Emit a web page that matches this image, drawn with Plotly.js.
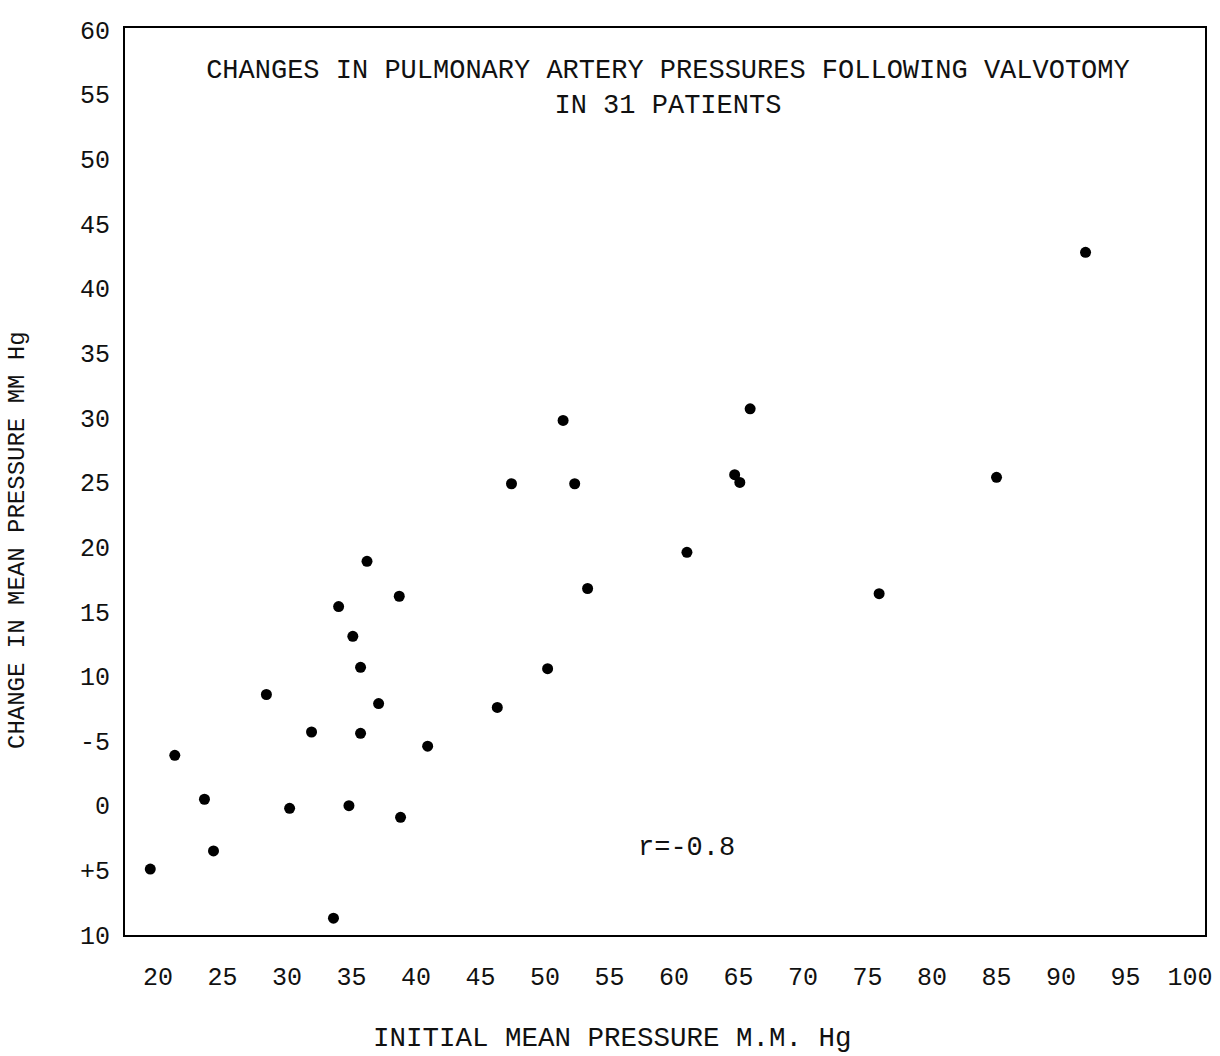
<!DOCTYPE html>
<html>
<head>
<meta charset="utf-8">
<script src="https://cdn.plot.ly/plotly-3.0.1.min.js"></script>
<style>
html,body{margin:0;padding:0;background:#fff;}
#chart{width:1220px;height:1056px;}
</style>
</head>
<body>
<div id="chart"></div>
<script>
// Initial mean pressure (mm Hg)
const initialPressure = [19.4, 21.3, 23.6, 24.3, 28.4, 30.2, 31.9, 33.6, 34.0, 34.8,
  35.1, 35.7, 35.7, 36.2, 37.1, 38.7, 38.8, 40.9, 46.3, 47.4,
  50.2, 51.4, 52.3, 53.3, 61.0, 64.7, 65.1, 65.9, 75.9, 85.0, 91.9];
// Change in mean pressure (mm Hg)
const changePressure = [-4.9, 3.9, 0.5, -3.5, 8.6, -0.2, 5.7, -8.7, 15.4, 0.0,
  13.1, 10.7, 5.6, 18.9, 7.9, 16.2, -0.9, 4.6, 7.6, 24.9,
  10.6, 29.8, 24.9, 16.8, 19.6, 25.6, 25.0, 30.7, 16.4, 25.4, 42.8];

const xTickVals = [20, 25, 30, 35, 40, 45, 50, 55, 60, 65, 70, 75, 80, 85, 90, 95, 100];
const yTickVals = [-10, -5, 0, 5, 10, 15, 20, 25, 30, 35, 40, 45, 50, 55, 60];
const yTickText = ["10", "+5", "0", "-5", "10", "15", "20", "25", "30", "35", "40", "45", "50", "55", "60"];

const titleText = "CHANGES IN PULMONARY ARTERY PRESSURES FOLLOWING VALVOTOMY<br>IN 31 PATIENTS";
const xTitle = "INITIAL MEAN PRESSURE M.M. Hg";
const yTitle = "CHANGE IN MEAN PRESSURE MM Hg";
const rText = "r=-0.8";

const FONT = "Liberation Mono, Courier New, monospace";

const trace = {
  type: "scatter",
  mode: "markers",
  x: initialPressure,
  y: changePressure,
  marker: {color: "#000", size: 11},
  hoverinfo: "x+y",
  showlegend: false
};

const layout = {
  width: 1220,
  height: 1056,
  margin: {l: 125, r: 15, t: 28, b: 121},
  paper_bgcolor: "#fff",
  plot_bgcolor: "#fff",
  font: {family: FONT, size: 26, color: "#111"},
  title: {
    text: titleText,
    font: {family: FONT, size: 27, color: "#111"},
    xref: "container", yref: "container",
    x: 0.5475, xanchor: "center",
    y: 0.926, yanchor: "middle"
  },
  xaxis: {
    range: [17.44, 101.16],
    tickmode: "array",
    tickvals: xTickVals,
    ticks: "outside",
    ticklen: 18,
    tickcolor: "rgba(0,0,0,0)",
    tickfont: {family: FONT, size: 25, color: "#111"},
    showgrid: false,
    zeroline: false,
    showline: true,
    linecolor: "#000",
    linewidth: 2,
    mirror: true
  },
  yaxis: {
    range: [-10, 60.15],
    tickmode: "array",
    tickvals: yTickVals,
    ticktext: yTickText,
    ticks: "outside",
    ticklen: 8,
    tickcolor: "rgba(0,0,0,0)",
    tickfont: {family: FONT, size: 25, color: "#111"},
    showgrid: false,
    zeroline: false,
    showline: true,
    linecolor: "#000",
    linewidth: 2,
    mirror: true
  },
  annotations: [
    {text: xTitle, xref: "paper", yref: "paper",
     x: (612 - 125) / 1080, y: (935 - 1038) / 907,
     xanchor: "center", yanchor: "middle", showarrow: false,
     font: {family: FONT, size: 27.5, color: "#111"}},
    {text: yTitle, xref: "paper", yref: "paper", textangle: -90,
     x: (17 - 125) / 1080, y: (935 - 540) / 907,
     xanchor: "center", yanchor: "middle", showarrow: false,
     font: {family: FONT, size: 24, color: "#111"}},
    {text: rText, xref: "x", yref: "y",
     x: 61.0, y: -3.3, xanchor: "center", yanchor: "middle", showarrow: false,
     font: {family: FONT, size: 27, color: "#111"}}
  ]
};

Plotly.newPlot("chart", [trace], layout, {displayModeBar: false, staticPlot: true});
</script>
</body>
</html>
